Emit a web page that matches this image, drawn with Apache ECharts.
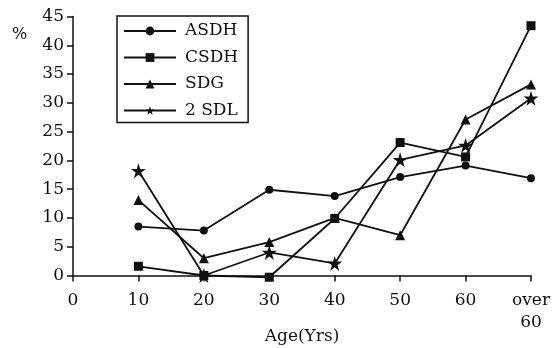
<!DOCTYPE html>
<html>
<head>
<meta charset="utf-8">
<script src="https://cdn.jsdelivr.net/npm/echarts@6/dist/echarts.min.js"></script>
<style>
  html, body { margin: 0; padding: 0; background: #fff; }
  #chart { width: 558px; height: 348px; }
</style>
</head>
<body>
<div id="chart"></div>
<script>
// age groups (x positions) and their tick labels
var ages = [10, 20, 30, 40, 50, 60, 70];
var tickLabels = { 0: '0', 10: '10', 20: '20', 30: '30', 40: '40', 50: '50', 60: '60', 70: 'over\n60' };

// percentages
var asdh = [8.5, 7.8, 14.9, 13.8, 17.1, 19.1, 16.9];
var csdh = [1.6, 0, -0.3, 9.9, 23.1, 20.6, 43.4];
var sdg  = [13.1, 3.0, 5.8, 10.0, 7.0, 27.1, 33.2];
var sdl  = [18.2, 0, 4.0, 2.1, 20.1, 22.6, 30.8];

var seriesNames = ['ASDH', 'CSDH', 'SDG', '2 SDL'];

var starPath = 'path://M50,0 L61,35 L98,35 L68,57 L79,92 L50,70 L21,92 L32,57 L2,35 L39,35 Z';

function pairs(vals) {
    return ages.map(function (a, i) { return [a, vals[i]]; });
}

var ink = '#111';
var font = 'DejaVu Serif';

var myChart = echarts.init(document.getElementById('chart'));

function mkSeries(name, vals, symbol, size) {
    return {
        name: name,
        type: 'line',
        data: pairs(vals),
        symbol: symbol,
        symbolSize: size,
        clip: false,
        lineStyle: { color: ink, width: 1.8 },
        itemStyle: { color: ink },
        animation: false
    };
}

var option = {
    backgroundColor: '#fff',
    grid: { left: 73, right: 27, top: 16.5, bottom: 72.5, outerBoundsMode: 'none', containLabel: false },
    legend: {
        orient: 'vertical',
        left: 117,
        top: 16,
        data: seriesNames,
        borderColor: ink,
        borderWidth: 1.5,
        borderRadius: 0,
        padding: [6, 10, 3, 6],
        itemWidth: 52,
        itemHeight: 11,
        itemGap: 8.5,
        textStyle: { fontFamily: font, fontSize: 17, color: ink, lineHeight: 18, padding: [0, 0, 0, 4] }
    },
    xAxis: {
        type: 'value',
        min: 0,
        max: 70,
        interval: 10,
        splitLine: { show: false },
        axisLine: { lineStyle: { color: ink, width: 1.5 } },
        axisTick: { length: 6, lineStyle: { color: ink, width: 1.5 } },
        axisLabel: {
            fontFamily: font, fontSize: 17, color: ink, margin: 14, lineHeight: 22,
            formatter: function (v) { return tickLabels[v]; }
        }
    },
    yAxis: {
        type: 'value',
        min: 0,
        max: 45,
        interval: 5,
        splitLine: { show: false },
        axisLine: { show: true, lineStyle: { color: ink, width: 1.5 } },
        axisTick: { show: true, length: 6, lineStyle: { color: ink, width: 1.5 } },
        axisLabel: { fontFamily: font, fontSize: 17, color: ink, margin: 9 }
    },
    graphic: [{
        type: 'text',
        left: 12,
        top: 27,
        style: { text: '%', font: '16px "' + font + '"', fill: ink }
    }, {
        type: 'text',
        x: 302,
        y: 337,
        style: { text: 'Age(Yrs)', font: '17px "' + font + '"', fill: ink, align: 'center', verticalAlign: 'middle' }
    }],
    series: [
        mkSeries('ASDH', asdh, 'circle', 8),
        mkSeries('CSDH', csdh, 'rect', 9),
        mkSeries('SDG', sdg, 'triangle', 10),
        mkSeries('2 SDL', sdl, starPath, 15)
    ]
};

myChart.setOption(option);
</script>
</body>
</html>
